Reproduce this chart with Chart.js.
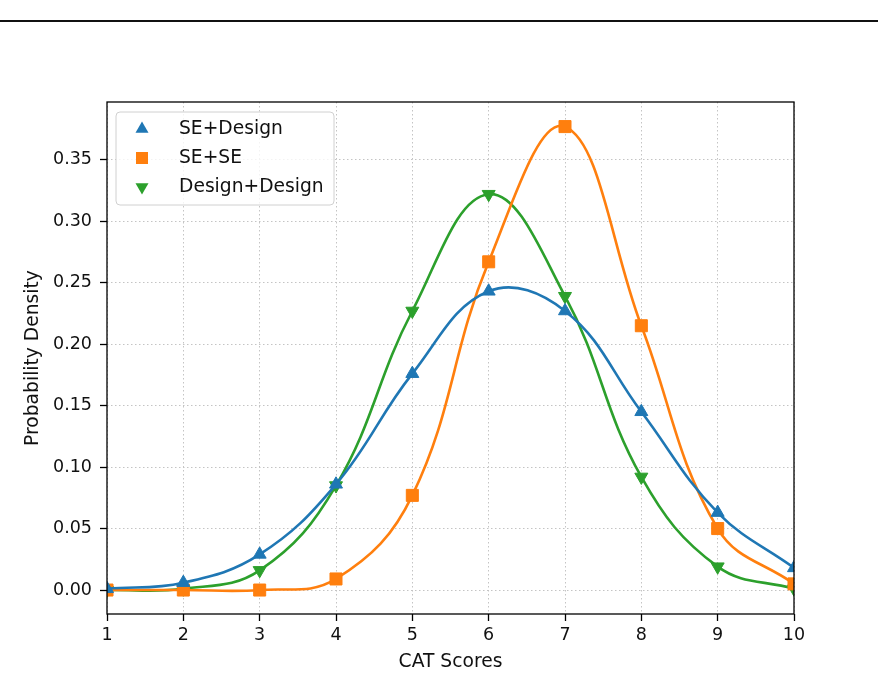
<!DOCTYPE html>
<html>
<head>
<meta charset="utf-8">
<script src="https://cdn.jsdelivr.net/npm/chart.js@4.4.1/dist/chart.umd.min.js"></script>
<style>
  body { margin: 0; background: #fff; }
  canvas { display: block; }
</style>
</head>
<body>
<canvas id="myChart" width="878" height="682"></canvas>
<script>
  const scores = [1, 2, 3, 4, 5, 6, 7, 8, 9, 10];
  const seDesign = [0.001, 0.006, 0.029, 0.086, 0.176, 0.243, 0.227, 0.145, 0.063, 0.018];
  const seSe = [0.000, 0.000, 0.000, 0.009, 0.077, 0.267, 0.377, 0.215, 0.050, 0.005];
  const designDesign = [0.000, 0.001, 0.016, 0.085, 0.227, 0.322, 0.239, 0.092, 0.019, 0.001];
  const yTicks = [0.00, 0.05, 0.10, 0.15, 0.20, 0.25, 0.30, 0.35];
  const xTicks = [1, 2, 3, 4, 5, 6, 7, 8, 9, 10];

  const font = 'DejaVu Sans';

  function series(label, values, color, style, rotation, radius) {
    return {
      label: label,
      data: scores.map((x, i) => ({ x: x, y: values[i] })),
      borderColor: color,
      backgroundColor: color,
      borderWidth: 2.6,
      tension: 0.4,
      pointStyle: style,
      rotation: rotation,
      pointRadius: radius,
      pointBorderWidth: 1,
      pointBackgroundColor: color,
      pointBorderColor: color
    };
  }

  const datasets = [
    series('SE+Design', seDesign, '#1f77b4', 'triangle', 0, 7.5),
    series('SE+SE', seSe, '#ff7f0e', 'rect', 0, 8.5),
    series('Design+Design', designDesign, '#2ca02c', 'triangle', 180, 7.5)
  ];

  function marker(ctx, ds, x, y) {
    const r = ds.pointRadius;
    ctx.fillStyle = ds.pointBackgroundColor;
    ctx.beginPath();
    if (ds.pointStyle === 'rect') {
      const s = r * Math.SQRT1_2;
      ctx.rect(x - s, y - s, 2 * s, 2 * s);
    } else {
      const rad = ds.rotation * Math.PI / 180;
      for (let k = 0; k < 3; k++) {
        const a = rad + k * 2 * Math.PI / 3;
        const px = x + Math.sin(a) * r;
        const py = y - Math.cos(a) * r;
        if (k === 0) ctx.moveTo(px, py); else ctx.lineTo(px, py);
      }
      ctx.closePath();
    }
    ctx.fill();
  }

  const decor = {
    id: 'decor',
    afterDraw(chart) {
      const ctx = chart.ctx;
      const a = chart.chartArea;
      ctx.save();
      // rule across the top of the page
      ctx.fillStyle = '#111';
      ctx.fillRect(0, 20, chart.width, 2);
      // axes frame
      ctx.strokeStyle = '#000';
      ctx.lineWidth = 1.3;
      ctx.strokeRect(a.left, a.top, a.right - a.left, a.bottom - a.top);
      // legend box
      const bx = a.left + 9, by = a.top + 10, bw = 218, bh = 93;
      ctx.beginPath();
      ctx.roundRect(bx, by, bw, bh, 4);
      ctx.fillStyle = 'rgba(255,255,255,0.8)';
      ctx.fill();
      ctx.strokeStyle = '#d0d0d0';
      ctx.lineWidth = 1;
      ctx.stroke();
      ctx.font = '18.7px "' + font + '"';
      ctx.textBaseline = 'middle';
      ctx.textAlign = 'left';
      chart.data.datasets.forEach((ds, i) => {
        const y = by + 17 + i * 29;
        marker(ctx, ds, bx + 26, y);
        ctx.fillStyle = '#111';
        ctx.fillText(ds.label, bx + 63, y);
      });
      ctx.restore();
    }
  };

  const config = {
    type: 'line',
    data: { datasets: datasets },
    options: {
      responsive: false,
      animation: false,
      layout: { padding: { top: 102, right: 84, left: 0, bottom: 0 } },
      plugins: { legend: { display: false }, tooltip: { enabled: false } },
      scales: {
        x: {
          type: 'linear',
          min: 1,
          max: 10,
          afterFit: s => { s.height = 68; },
          afterBuildTicks: s => { s.ticks = xTicks.map(v => ({ value: v })); },
          ticks: { color: '#111', padding: 4, font: { family: font, size: 17.5 }, maxRotation: 0 },
          grid: { color: '#c4c4c4', lineWidth: 1, tickLength: 7, tickColor: '#000', tickWidth: 1.3, tickBorderDash: [] },
          border: { display: false, dash: [1.5, 2.5] },
          title: { display: true, text: 'CAT Scores', color: '#111', font: { family: font, size: 18.7 }, padding: { top: 0, bottom: 9 } }
        },
        y: {
          type: 'linear',
          min: -0.0195,
          max: 0.397,
          afterFit: s => { s.width = 107; },
          afterBuildTicks: s => { s.ticks = yTicks.map(v => ({ value: v })); },
          ticks: { color: '#111', padding: 8, font: { family: font, size: 17.5 }, callback: v => v.toFixed(2) },
          grid: { color: '#c4c4c4', lineWidth: 1, tickLength: 7, tickColor: '#000', tickWidth: 1.3, tickBorderDash: [] },
          border: { display: false, dash: [1.5, 2.5] },
          title: { display: true, text: 'Probability Density', color: '#111', font: { family: font, size: 18.7 }, padding: { top: 22, bottom: 0 } }
        }
      }
    },
    plugins: [decor]
  };

  const myChart = new Chart(document.getElementById('myChart'), config);
</script>
</body>
</html>
